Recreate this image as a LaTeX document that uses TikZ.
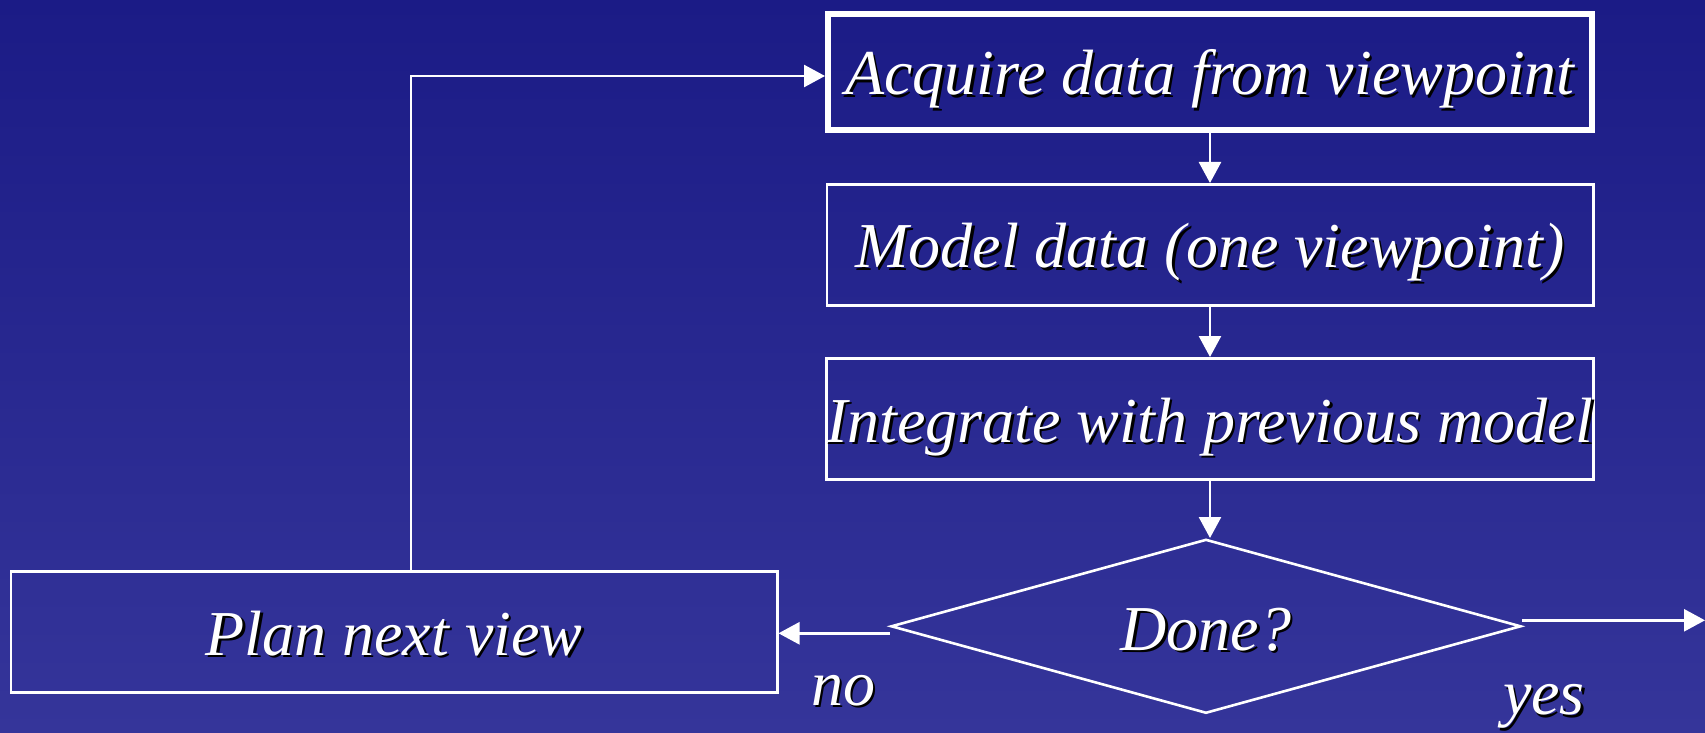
\documentclass[tikz,border=0pt]{standalone}
\usepackage{fontspec}
\setmainfont{Liberation Serif}
\usetikzlibrary{arrows.meta,positioning,shapes.geometric}
\definecolor{SlideTop}{HTML}{1B1B86}
\definecolor{SlideBottom}{HTML}{35359A}
\newcommand{\shadowed}[1]{\leavevmode\rlap{\kern1.2pt\raisebox{-1.2pt}{\textcolor{black}{#1}}}#1}

\begin{document}
\begin{tikzpicture}[
  x=0.5pt, y=-0.5pt,
  node distance=25pt,
  txt/.style={text=white, font=\fontsize{32}{38}\selectfont\itshape},
  box/.style={txt, draw=white, line width=1.3pt, minimum width=383.2pt, minimum height=60.7pt, inner sep=0pt, text height=26pt, text depth=3pt},
  decision/.style={txt, draw=white, line width=1.3pt, diamond, aspect=3.6, minimum width=315pt, minimum height=87pt, inner sep=0pt, text height=27pt, text depth=3pt},
  flow/.style={-{Triangle[length=10.5pt,width=11pt]}, draw=white, line width=1.3pt}
]
\useasboundingbox (0,0) rectangle (1705,733);
\shade[top color=SlideTop, bottom color=SlideBottom] (0,0) rectangle (1705,733);

\node[box, line width=3pt, minimum width=382pt, minimum height=58pt] (acquire) at (1210,72) {\shadowed{Acquire data from viewpoint}};
\node[box, below=of acquire] (model) {\shadowed{Model data (one viewpoint)}};
\node[box, below=of model] (integrate) {\shadowed{Integrate with previous model}};
\node[decision, below=28.5pt of integrate, xshift=-2pt] (done) {\shadowed{Done?}};
\node[box] (plan) at (394,632) {\shadowed{Plan next view}};
\node[txt] (no) at (843,692) {\shadowed{no}};
\node[txt] (yes) at (1544,708) {\shadowed{yes}};

\coordinate (nojoin) at ([yshift=-3.5pt]done.west);
\coordinate (yesjoin) at ([yshift=3pt]done.east);
\coordinate (loopin) at ([yshift=-2pt]acquire.west);
\coordinate (exit) at (1705,0);

\draw[flow] (acquire) -- (model);
\draw[flow] (model) -- (integrate);
\draw[flow] (integrate) -- (integrate |- done.north);
\draw[flow] (nojoin) -- (nojoin -| plan.east);
\draw[flow] (yesjoin) -- (yesjoin -| exit);
\draw[flow] ([xshift=8.5pt]plan.north) |- (loopin);
\end{tikzpicture}
\end{document}
